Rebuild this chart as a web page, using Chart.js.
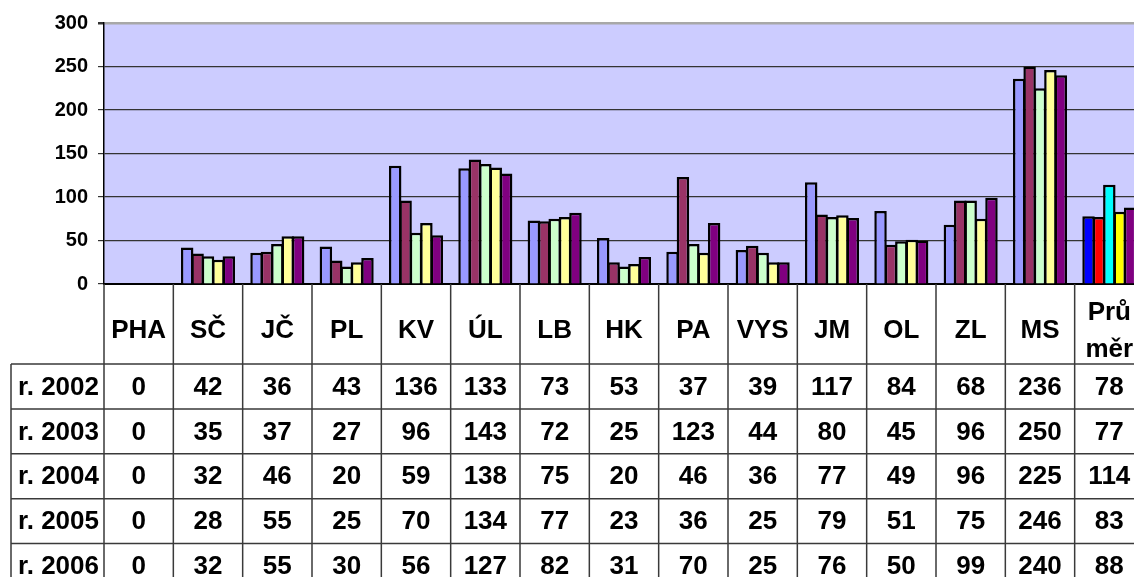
<!DOCTYPE html>
<html>
<head>
<meta charset="utf-8">
<script src="https://cdn.jsdelivr.net/npm/chart.js@4.4.0/dist/chart.umd.min.js"></script>
<style>
  html, body { margin: 0; padding: 0; background: #fff; overflow: hidden; }
  #wrap { width: 1146px; height: 577px; }
</style>
</head>
<body>
<div id="wrap"><canvas id="kraje" width="1146" height="577"></canvas></div>
<script>
// kraje + celostátní průměr
const regions = ['PHA', 'SČ', 'JČ', 'PL', 'KV', 'ÚL', 'LB', 'HK', 'PA', 'VYS', 'JM', 'OL', 'ZL', 'MS', ['Prů', 'měr']];
const years = ['r. 2002', 'r. 2003', 'r. 2004', 'r. 2005', 'r. 2006'];

const v2002 = [0, 42, 36, 43, 136, 133, 73, 53, 37, 39, 117, 84, 68, 236, 78];
const v2003 = [0, 35, 37, 27, 96, 143, 72, 25, 123, 44, 80, 45, 96, 250, 77];
const v2004 = [0, 32, 46, 20, 59, 138, 75, 20, 46, 36, 77, 49, 96, 225, 114];
const v2005 = [0, 28, 55, 25, 70, 134, 77, 23, 36, 25, 79, 51, 75, 246, 83];
const v2006 = [0, 32, 55, 30, 56, 127, 82, 31, 70, 25, 76, 50, 99, 240, 88];
const series = [v2002, v2003, v2004, v2005, v2006];

const barColors = ['#9999FF', '#993366', '#CCFFCC', '#FFFF99', '#800080'];
const avgColors = ['#0000FF', '#FF0000', '#00FFFF', '#FFFF00', '#800080'];

const FONT = '"Liberation Sans", Arial, sans-serif';
const TABLE_SIZE = 26;

const datasets = series.map((vals, i) => ({
    label: years[i],
    data: vals,
    backgroundColor: vals.map((_, j) => j === vals.length - 1 ? avgColors[i] : barColors[i]),
    borderColor: '#000',
    borderWidth: 2.5,
    categoryPercentage: 0.75,
    barPercentage: 1.2
}));

// light blue plot background
const plotBg = {
    id: 'plotBg',
    beforeDraw(chart) {
        const { ctx, chartArea: a } = chart;
        ctx.save();
        ctx.fillStyle = '#CCCCFF';
        ctx.fillRect(a.left, a.top, a.right - a.left, a.bottom - a.top);
        ctx.restore();
    }
};

// data table under the category header row
const dataTable = {
    id: 'dataTable',
    afterDraw(chart) {
        const { ctx, chartArea: a } = chart;
        const x = chart.scales.x;
        const half = (x.getPixelForValue(1) - x.getPixelForValue(0)) / 2;
        const headBottom = a.bottom + 80;
        const rowH = 44.9;
        const leftEdge = 11;
        const bottom = chart.height;

        ctx.save();
        ctx.strokeStyle = '#3a3a3a';
        ctx.lineWidth = 1.5;
        ctx.beginPath();
        for (let r = 0; r <= years.length; r++) {
            const y = headBottom + r * rowH;
            ctx.moveTo(leftEdge, y);
            ctx.lineTo(a.right, y);
        }
        ctx.moveTo(leftEdge, headBottom);
        ctx.lineTo(leftEdge, bottom);
        for (let i = 0; i <= regions.length; i++) {
            const bx = x.getPixelForValue(i) - half;
            ctx.moveTo(bx, a.bottom);
            ctx.lineTo(bx, bottom);
        }
        ctx.stroke();

        ctx.fillStyle = '#000';
        ctx.font = 'bold ' + TABLE_SIZE + 'px ' + FONT;
        ctx.textAlign = 'center';
        ctx.textBaseline = 'middle';
        series.forEach((vals, r) => {
            const cy = headBottom + r * rowH + rowH / 2 + 1;
            ctx.fillText(years[r], (leftEdge + a.left) / 2 + 1, cy);
            vals.forEach((v, i) => ctx.fillText(String(v), x.getPixelForValue(i), cy));
        });
        ctx.restore();
    }
};

new Chart(document.getElementById('kraje').getContext('2d'), {
    type: 'bar',
    data: { labels: regions, datasets: datasets },
    options: {
        responsive: false,
        animation: false,
        // canvas is a bit wider than the page, the last column gets cut off
        layout: { padding: { top: 23, right: 2, bottom: 213, left: 0 } },
        plugins: { legend: { display: false }, tooltip: { enabled: false } },
        scales: {
            x: {
                afterFit: s => {
                    s.height = 80;
                    s.paddingLeft = 0;
                    s.paddingRight = 0;
                },
                grid: { display: false },
                border: { color: '#000', width: 2 },
                ticks: {
                    color: '#000',
                    font: { family: FONT, size: TABLE_SIZE, weight: 'bold', lineHeight: 1.4 },
                    padding: 21,
                    crossAlign: 'center',
                    maxRotation: 0,
                    autoSkip: false
                }
            },
            y: {
                min: 0,
                max: 300,
                afterFit: s => { s.width = 104; },
                border: { color: '#000', width: 1.5 },
                grid: {
                    color: c => c.tick && c.tick.value === 300 ? '#a8a8a8' : '#333',
                    lineWidth: c => c.tick && c.tick.value === 300 ? 2.5 : 1.2,
                    tickColor: '#333',
                    tickLength: 6
                },
                ticks: {
                    stepSize: 50,
                    color: '#000',
                    padding: 10,
                    font: { family: FONT, size: 20, weight: 'bold' }
                }
            }
        }
    },
    plugins: [plotBg, dataTable]
});
</script>
</body>
</html>
